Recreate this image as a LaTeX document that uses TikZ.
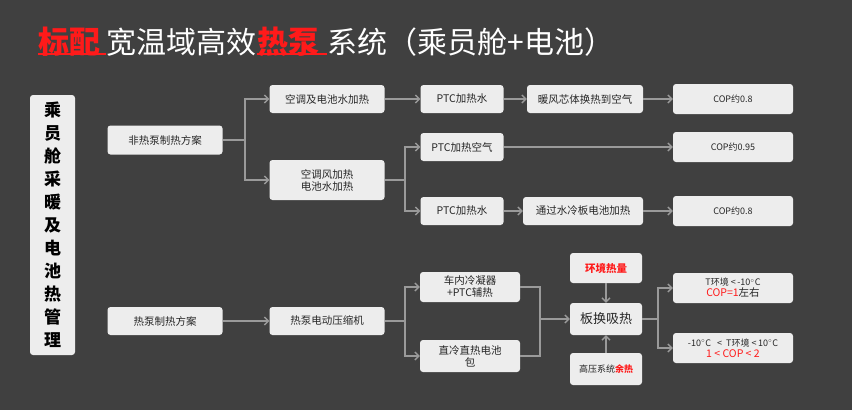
\documentclass[tikz,border=0pt]{standalone}
\usepackage{fontspec}
\setmainfont{Noto Sans CJK SC}
\usetikzlibrary{arrows.meta,positioning}
\definecolor{bgcol}{HTML}{404040}
\definecolor{boxcol}{HTML}{EDEDED}
\definecolor{linecol}{HTML}{9A9A9A}
\definecolor{hot}{HTML}{FF1A1A}
\begin{document}
\begin{tikzpicture}
		[x=1pt,y=-1pt,
		%Styles
		box/.style={rounded corners=3pt,fill=boxcol,inner sep=2pt,align=center,font=\fontsize{10.5}{12}\selectfont,text=black!85},
		cop box/.style={box,minimum width=120pt,minimum height=30pt,font=\fontsize{9}{11}\selectfont},
		flow/.style={draw=linecol,line width=1.3pt,-{Straight Barb[length=4pt,width=8pt]}},
		branch/.style={draw=linecol,line width=1.3pt},
		title text/.style={inner sep=0pt,font=\fontsize{30}{34}\selectfont,text=white}
		]
		
		\fill[bgcol] (0,0) rectangle (852,410);
		\useasboundingbox (0,0) rectangle (852,410);
		
		%Title
		\node[title text,anchor=west,text=hot,font=\fontsize{31}{34}\selectfont\bfseries] (t1) at (38,42) {标配};
		\node[title text,anchor=west] (t2) at ([xshift=6pt]t1.east) {宽温域高效};
		\node[title text,anchor=west,text=hot,font=\fontsize{31}{34}\selectfont\bfseries] (t3) at (t2.east) {热泵};
		\node[title text,anchor=west] (t4) at ([xshift=8pt]t3.east) {系统（乘员舱+电池）};
		\draw[hot,line width=1.5pt] ([yshift=3pt]t1.south west) -- ([xshift=6pt,yshift=3pt]t1.south east);
		\draw[hot,line width=1.5pt] ([yshift=3pt]t3.south west) -- ([xshift=8pt,yshift=3pt]t3.south east);
		
		%Left column
		\node[box,minimum width=45pt,minimum height=260pt,font=\fontsize{17}{23}\selectfont\bfseries,text=black] (main) at (52.5,225) {乘\\员\\舱\\采\\暖\\及\\电\\池\\热\\管\\理};
		\node[box,minimum width=115pt,minimum height=29pt] (nonhp) at (165,140) {非热泵制热方案};
		\node[box,minimum width=115pt,minimum height=28pt] (hp) at (165,321) {热泵制热方案};
		
		%Upper branch
		\node[box,minimum width=115pt,minimum height=28pt] (acwater) at (327,99) {空调及电池水加热};
		\node[box,minimum width=115pt,minimum height=40pt] (acair) at (327,180) {空调风加热\\电池水加热};
		\node[box,minimum width=83pt,minimum height=28pt] (ptcw1) at (462,99) {PTC加热水};
		\node[box,minimum width=116pt,minimum height=28pt] (core) at (585,99) {暖风芯体换热到空气};
		\node[cop box] (cop1) at (733,99) {COP约0.8};
		\node[box,minimum width=83pt,minimum height=28pt] (ptca) at (462,147) {PTC加热空气};
		\node[cop box] (cop2) at (733,147) {COP约0.95};
		\node[box,minimum width=83pt,minimum height=28pt] (ptcw2) at (462,211) {PTC加热水};
		\node[box,minimum width=120pt,minimum height=28pt] (plate) at (583,211) {通过水冷板电池加热};
		\node[cop box] (cop3) at (733,211) {COP约0.8};
		
		%Lower branch
		\node[box,minimum width=115pt,minimum height=28pt] (comp) at (327,321) {热泵电动压缩机};
		\node[box,minimum width=100pt,minimum height=30pt] (cond) at (470,287) {车内冷凝器\\+PTC辅热};
		\node[box,minimum width=100pt,minimum height=32pt] (batt) at (470,356) {直冷直热电池\\包};
		\node[box,minimum width=72pt,minimum height=30pt,text=hot,font=\fontsize{10.5}{12}\selectfont\bfseries] (amb) at (606,268) {环境热量};
		\node[box,minimum width=72pt,minimum height=32pt,font=\fontsize{13}{15}\selectfont] (hx) at (606,319) {板换吸热};
		\node[box,minimum width=72pt,minimum height=32pt,font=\fontsize{9}{11}\selectfont] (waste) at (606,369) {高压系统\textcolor{hot}{\bfseries 余热}};
		\node[cop box] (low) at (733,288) {T环境 <\,-10$^{\circ}$C\\{\color{hot}\fontsize{10.5}{12}\selectfont COP=1}{\fontsize{10.5}{12}\selectfont 左右}};
		\node[cop box] (mid) at (733,348) {-10$^{\circ}$C \ \ <\ \ T环境 <\,10$^{\circ}$C\\{\color{hot}\fontsize{10.5}{12}\selectfont 1 < COP < 2}};
		
		%Connectors
		\coordinate (j1) at (245,140);
		\draw[branch] (nonhp) -- (j1);
		\path[flow] (j1) |- (acwater);
		\path[flow] (j1) |- (acair);
		\path[flow] (acwater) -- (ptcw1);
		\path[flow] (ptcw1) -- (core);
		\path[flow] (core) -- (cop1);
		\coordinate (j2) at (405,180);
		\draw[branch] (acair) -- (j2);
		\path[flow] (j2) |- (ptca);
		\path[flow] (j2) |- (ptcw2);
		\path[flow] (ptca) -- (cop2);
		\path[flow] (ptcw2) -- (plate);
		\path[flow] (plate) -- (cop3);
		
		\path[flow] (hp) -- (comp);
		\coordinate (j3) at (405,321);
		\draw[branch] (comp) -- (j3);
		\path[flow] (j3) |- (cond);
		\path[flow] (j3) |- (batt);
		\coordinate (j4) at (540,319);
		\draw[branch] (cond) -| (j4);
		\draw[branch] (batt) -| (j4);
		\path[flow] (j4) -- (hx);
		\path[flow] (amb) -- (hx);
		\path[flow] (waste) -- (hx);
		\coordinate (j5) at (658,319);
		\draw[branch] (hx) -- (j5);
		\path[flow] (j5) |- (low);
		\path[flow] (j5) |- (mid);
\end{tikzpicture}
\end{document}
